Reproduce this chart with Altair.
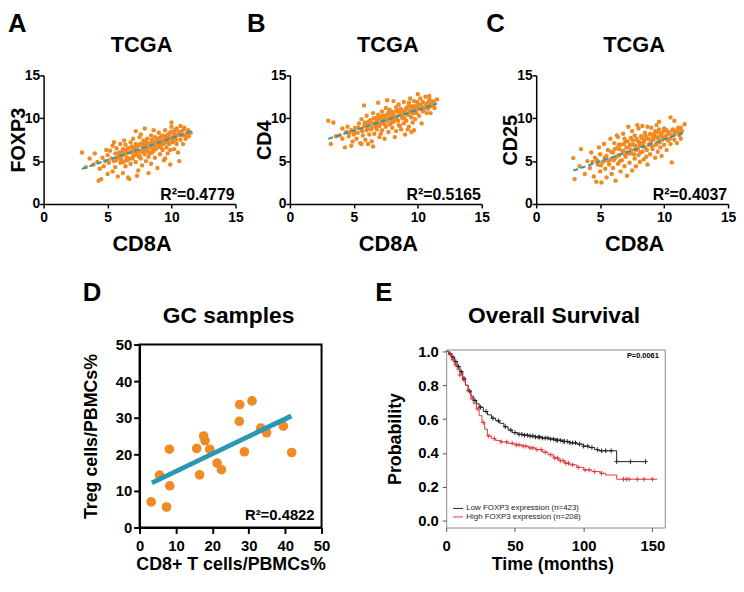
import altair as alt
import pandas as pd

F = "Liberation Sans"
ORANGE = "#F08A24"
TEAL = "#2B97B3"
RED = "#E03C40"
DARK = "#222222"

# ---------------- Panel A: FOXP3 vs CD8A ----------------
A_x = [3.0,3.3,3.6,3.9,4.0,4.2,4.3,4.5,4.4,4.6,4.8,4.9,4.7,5.0,5.0,
       5.1,5.2,5.3,5.4,5.4,5.5,5.6,5.6,5.7,5.8,5.8,5.9,6.0,6.0,5.5,
       6.1,6.2,6.2,6.3,6.4,6.4,6.5,6.6,6.6,6.7,6.8,6.8,6.9,7.0,7.0,6.3,6.7,
       7.1,7.2,7.2,7.3,7.4,7.4,7.5,7.5,7.6,7.7,7.7,7.8,7.8,7.9,8.0,8.0,7.6,7.3,
       8.1,8.1,8.2,8.3,8.3,8.4,8.4,8.5,8.5,8.6,8.7,8.7,8.8,8.9,8.9,9.0,9.0,8.6,8.2,
       9.1,9.1,9.2,9.3,9.3,9.4,9.4,9.5,9.5,9.6,9.7,9.7,9.8,9.8,9.9,10.0,10.0,10.0,9.9,
       10.1,10.2,10.2,10.3,10.4,10.4,10.5,10.6,10.7,10.7,10.8,10.9,11.0,11.0,11.1,11.2,11.3,11.5,10.6,9.5,
       7.9,7.2,6.9,7.5,8.0,8.6,9.2,6.5,7.1,8.3,9.0,10.4]
A_y = [6.0,4.3,5.3,4.6,5.9,4.9,2.7,2.9,4.1,5.4,5.0,6.3,4.4,3.5,5.7,
       4.8,6.2,5.3,3.8,6.8,5.0,5.9,4.3,6.5,5.4,3.2,6.0,4.8,7.0,7.2,
       5.6,6.4,3.6,5.0,6.9,4.4,5.9,6.5,3.1,5.3,7.2,4.7,6.1,5.6,7.6,7.4,2.9,
       6.5,4.9,7.0,5.9,6.8,3.9,6.2,7.8,5.3,6.9,4.5,6.4,7.4,5.8,6.9,5.0,8.1,3.3,
       6.2,7.6,5.5,7.0,6.6,8.0,4.7,6.0,7.3,6.8,5.4,7.8,6.4,7.1,4.2,6.7,8.3,8.6,3.6,
       7.4,5.8,6.9,8.0,6.3,7.2,5.1,7.7,8.6,6.6,7.5,5.9,8.2,7.0,6.3,7.7,9.0,9.5,4.6,
       7.2,8.3,6.4,7.8,8.8,7.0,6.0,8.1,7.5,9.1,8.5,7.0,8.0,8.9,7.6,8.3,8.6,8.3,5.0,5.3,
       8.8,8.5,6.7,5.6,7.2,6.2,7.9,5.4,6.0,5.9,7.3,8.0]
A_x2 = [6.05,6.15,6.35,6.45,6.55,6.75,6.85,6.95,7.05,7.15,7.25,7.35,7.45,7.55,7.65,7.75,7.85,7.95,8.05,8.15,
        8.25,8.35,8.45,8.55,8.65,8.75,8.85,8.95,9.05,9.15,9.25,9.35,9.45,9.55,9.65,9.75,9.85,9.95,10.05,10.15,
        10.25,10.35,10.55,10.75,10.95,11.15,11.35,5.85,5.65,6.25]
A_y2 = [5.2,6.1,5.8,6.3,5.1,6.0,6.6,5.3,6.3,5.7,6.7,6.2,5.5,7.0,6.1,6.6,7.1,6.2,6.5,7.1,
        6.0,6.8,7.5,6.4,7.2,6.7,7.6,6.9,7.7,6.6,7.4,7.0,7.9,7.2,8.0,7.1,7.8,8.4,7.4,7.9,
        8.6,7.5,8.4,8.0,8.7,8.1,7.9,5.6,5.1,4.9]
A_fit_x = [3.0, 11.6]
A_fit_y = [4.1, 8.5]

# ---------------- Panel B: CD4 vs CD8A ----------------
B_x = [3.0,3.4,3.2,3.6,3.9,4.1,4.3,4.4,4.6,4.8,4.9,5.0,4.5,5.1,5.2,
       5.3,5.4,5.5,5.6,5.6,5.7,5.8,5.9,6.0,6.0,5.8,6.1,6.2,6.3,6.4,
       6.4,6.5,6.6,6.6,6.7,6.8,6.8,6.9,7.0,7.0,6.5,6.9,7.1,7.2,7.2,7.3,7.4,
       7.4,7.5,7.5,7.6,7.7,7.7,7.8,7.8,7.9,8.0,8.0,8.1,8.1,8.2,8.3,8.3,8.4,
       8.4,8.5,8.5,8.6,8.7,8.7,8.8,8.9,8.9,9.0,9.0,9.1,9.1,9.2,9.3,9.3,9.4,9.4,9.5,
       9.5,9.6,9.7,9.7,9.8,9.8,9.9,10.0,10.0,10.1,10.2,10.2,10.3,10.4,10.4,10.5,10.6,10.7,
       10.7,10.8,10.9,11.0,11.0,11.1,11.2,11.3,11.5,8.2,9.7,6.1,7.6,10.9,4.1,8.6,9.9,7.1,6.7,8.0,9.2,
       4.8,5.6,9.5]
B_y = [9.7,9.5,7.0,7.9,8.0,7.6,6.6,8.4,7.9,8.6,7.3,8.1,9.0,8.9,7.6,
       8.3,9.4,7.1,8.7,9.9,8.0,9.1,7.5,8.6,10.3,11.5,9.3,8.1,9.8,7.3,
       8.9,10.6,9.4,8.2,10.0,8.7,9.6,11.8,9.1,7.8,6.7,10.4,9.9,8.6,10.8,9.4,7.6,
       10.2,9.0,11.2,9.7,8.4,10.5,9.3,11.0,10.0,8.9,10.7,9.6,12.0,10.2,8.5,11.3,9.8,
       10.9,9.2,11.6,10.4,8.7,11.0,10.0,9.4,11.9,10.6,8.1,11.2,9.7,10.4,11.8,9.0,10.9,12.3,10.1,
       11.4,9.5,10.8,12.0,11.2,9.9,10.6,11.6,12.8,10.3,11.1,12.3,9.4,10.8,11.9,11.3,12.5,10.6,
       11.7,11.1,12.2,11.4,10.6,12.0,11.5,11.2,12.2,7.8,8.6,7.0,12.1,12.6,8.8,9.1,11.0,8.2,9.0,9.7,8.7,
       6.8,7.0,8.4]
B_x2 = [5.05,5.35,5.65,5.85,6.05,6.15,6.35,6.45,6.55,6.75,6.85,6.95,7.05,7.15,7.25,7.35,7.45,7.55,7.65,7.75,
        7.85,7.95,8.05,8.15,8.25,8.35,8.45,8.55,8.65,8.75,8.85,8.95,9.05,9.15,9.25,9.35,9.45,9.55,9.65,9.75,
        9.85,9.95,10.05,10.25,10.45,10.65,10.85,11.05,11.25,4.65]
B_y2 = [8.4,8.9,8.5,9.5,8.9,9.6,8.7,9.4,10.0,9.1,9.9,9.3,10.1,9.5,10.3,9.8,9.2,10.4,9.9,10.8,
        10.1,9.5,10.4,9.9,10.8,10.2,9.7,10.6,11.1,10.3,10.7,10.0,11.0,10.5,11.4,10.7,10.2,11.1,10.6,11.4,
        10.8,11.9,11.2,11.6,11.0,11.5,11.9,11.6,11.9,8.3]
B_fit_x = [3.0, 11.5]
B_fit_y = [7.6, 11.7]

# ---------------- Panel C: CD25 vs CD8A ----------------
C_x = [2.9,3.5,3.0,3.4,3.8,4.0,4.2,4.3,4.5,4.6,4.7,4.8,4.9,5.0,5.0,
       5.1,5.2,5.3,5.4,5.5,5.5,5.6,5.7,5.8,5.8,5.9,6.0,6.0,6.1,6.2,
       6.2,6.3,6.4,6.4,6.5,6.6,6.6,6.7,6.8,6.8,6.9,7.0,7.0,7.1,7.2,7.2,7.3,
       7.4,7.4,7.5,7.5,7.6,7.7,7.7,7.8,7.8,7.9,8.0,8.0,8.1,8.1,8.2,8.3,8.3,
       8.4,8.4,8.5,8.5,8.6,8.7,8.7,8.8,8.9,8.9,9.0,9.0,9.1,9.2,9.3,9.3,9.4,9.4,9.5,
       9.5,9.6,9.7,9.7,9.8,9.8,9.9,10.0,10.0,10.1,10.2,10.2,10.3,10.4,10.5,10.5,10.6,10.6,
       10.7,10.8,10.8,10.9,11.0,11.1,11.2,11.3,11.4,11.6,11.3,6.3,7.9,5.3,6.5,7.1,8.6,9.6,4.4,8.2,9.1,6.9]
C_y = [5.35,6.4,2.9,4.4,3.5,5.0,4.2,6.0,3.2,5.4,2.6,4.6,6.6,3.8,5.8,
       2.5,4.9,7.0,4.1,5.6,3.1,6.3,4.6,7.6,5.2,3.5,6.0,4.2,7.1,5.4,
       2.7,6.5,4.7,7.8,5.7,3.8,6.9,5.1,8.2,6.2,4.4,7.3,5.5,3.3,9.0,6.6,4.8,
       7.7,5.9,8.5,3.9,6.9,5.3,8.0,6.3,4.4,7.4,8.8,5.7,6.8,4.9,7.9,6.1,9.1,
       7.2,5.2,8.3,6.6,7.7,4.6,9.0,6.9,8.1,5.8,7.4,8.9,6.4,7.9,5.4,8.5,7.0,9.2,6.1,
       7.8,8.7,6.6,7.4,8.2,5.6,7.7,8.8,6.9,7.9,8.6,6.3,7.4,8.3,10.1,7.0,4.85,8.0,
       8.7,9.7,7.5,8.3,7.1,8.9,8.0,7.6,8.5,9.3,8.9,8.0,9.2,5.0,6.4,6.0,5.5,9.6,4.9,7.0,7.6,7.6]
C_x2 = [5.05,5.35,5.65,5.85,6.05,6.15,6.35,6.45,6.55,6.75,6.85,6.95,7.05,7.15,7.25,7.35,7.45,7.55,7.65,7.75,
        7.85,7.95,8.05,8.15,8.25,8.35,8.45,8.55,8.65,8.75,8.85,8.95,9.05,9.15,9.25,9.35,9.45,9.55,9.65,9.75,
        9.85,9.95,10.05,10.25,10.45,10.65,10.85,11.05,11.25,4.75]
C_y2 = [4.5,5.4,5.0,6.1,5.1,6.4,5.6,6.9,5.0,6.1,7.0,5.7,6.6,7.3,5.9,6.9,6.3,7.4,5.8,6.8,
        7.6,6.4,7.2,6.0,7.7,6.8,7.4,8.0,6.3,7.6,7.0,8.2,6.7,7.5,8.1,6.9,7.7,8.4,7.2,8.0,
        7.5,8.5,7.7,8.1,7.6,8.6,8.2,8.6,8.3,5.1]
C_fit_x = [2.9, 11.6]
C_fit_y = [3.9, 8.35]

# ---------------- Panel D: GC samples ----------------
D_x = [3.2,5.5,7.4,8.2,8.3,15.7,16.5,17.6,18.0,19.3,21.3,22.5,27.5,27.4,28.8,30.9,33.3,34.9,39.5,41.8]
D_y = [7.0,14.3,5.6,21.4,11.4,21.6,14.4,25.0,23.7,21.4,17.6,15.8,33.6,29.0,20.7,34.6,27.2,25.9,27.7,20.5]
D_fit_x = [3.4, 41.7]
D_fit_y = [12.2, 30.5]

# ---------------- Panel E: Kaplan-Meier ----------------
LOW_t = [0,2,4,6,8,10,12,14,16,18,20,22,24,27,30,33,36,39,42,45,48,52,56,60,65,70,75,80,85,90,95,100,104,108,111,124,145.5]
LOW_p = [1.0,0.985,0.965,0.94,0.91,0.88,0.84,0.80,0.765,0.735,0.71,0.69,0.67,0.645,0.625,0.605,0.59,0.575,0.555,0.535,
         0.52,0.51,0.505,0.50,0.494,0.488,0.482,0.475,0.468,0.46,0.452,0.44,0.432,0.42,0.413,0.349,0.349]
HIGH_t = [0,2,4,6,8,10,12,14,16,18,20,22,24,26,28,30,33,36,40,45,50,55,60,65,70,74,78,82,86,90,95,100,106,112,116,124,153.5]
HIGH_p = [1.0,0.98,0.95,0.92,0.89,0.86,0.83,0.80,0.77,0.72,0.69,0.66,0.62,0.58,0.54,0.50,0.485,0.474,0.465,0.457,
          0.448,0.44,0.43,0.42,0.405,0.39,0.37,0.355,0.34,0.33,0.315,0.30,0.29,0.28,0.27,0.245,0.245]
LOW_cens_t = [3,5,7,9,11,13,17,21,25,29,34,38,43,47,50,53,55,57,59,61,63,65,67,68,70,72,74,76,78,80,
              81,83,85,86,88,90,92,94,97,100,103,106,110,113,116,120,124,134,145]
LOW_cens_p = [.985,.965,.94,.91,.88,.84,.765,.71,.67,.645,.605,.59,.555,.535,.52,.51,.51,.505,.505,.50,
              .50,.494,.494,.494,.488,.488,.488,.482,.482,.475,.475,.475,.468,.468,.468,.46,.46,.46,.452,.44,
              .44,.432,.42,.413,.413,.413,.349,.349,.349]
HIGH_cens_t = [3,5,7,10,13,16,19,23,27,31,35,40,44,48,51,53,56,58,61,63,66,69,72,76,79,81,83,85,87,89,
               92,96,101,104,108,113,129,131,133,139,144,150]
HIGH_cens_p = [.98,.95,.92,.86,.83,.77,.72,.66,.58,.50,.485,.465,.465,.457,.448,.448,.44,.44,.43,.43,
               .42,.42,.405,.39,.37,.37,.355,.355,.34,.34,.33,.315,.30,.30,.29,.28,.245,.245,.245,.245,.245,.245]


def text_layer(s, x, y, size, align="left", baseline="alphabetic", weight="bold", color="black"):
    return alt.Chart(pd.DataFrame({"t": [s]})).mark_text(
        align=align, baseline=baseline, font=F, fontSize=size, fontWeight=weight, color=color
    ).encode(x=alt.value(x), y=alt.value(y), text="t:N")


def ax(values, title, **kw):
    base = dict(values=values, tickCount=len(values) + 2, title=title, grid=False, labelFlush=False,
                labelOverlap=False, labelFont=F, labelFontWeight="bold", labelColor="black",
                titleFont=F, titleFontWeight="bold", titleColor="black",
                tickColor="black", domainColor="black")
    base.update(kw)
    return alt.Axis(**base)


def tcga(letter, letter_x, ylab, xs, ys, fx, fy, r2):
    sc = alt.Scale(domain=[0, 15], nice=False, zero=False)
    xa = ax([0, 5, 10, 15], "CD8A", labelFontSize=14, domainWidth=1.5, tickWidth=1.5, tickSize=4,
            labelPadding=3, titleFontSize=22, titleX=99, titleY=29.7, titleBaseline="top",
            titleAlign="center", titleAngle=0)
    ya = ax([0, 5, 10, 15], ylab, labelFontSize=14, domainWidth=1.5, tickWidth=1.5, tickSize=4,
            labelPadding=0, titleFontSize=20, titleX=-15.8, titleY=65, titleBaseline="bottom",
            titleAlign="center", titleAngle=270)
    pts = alt.Chart(pd.DataFrame({"x": xs, "y": ys})).mark_circle(size=20, color=ORANGE, opacity=1).encode(
        x=alt.X("x:Q", scale=sc, axis=xa), y=alt.Y("y:Q", scale=sc, axis=ya))
    fit = alt.Chart(pd.DataFrame({"x": fx, "y": fy})).mark_line(
        color=TEAL, strokeWidth=2, strokeDash=[5, 3]).encode(x="x:Q", y="y:Q")
    return alt.layer(
        pts, fit,
        text_layer(r2, 193, 125.5, 16, align="right"),
        text_layer("TCGA", 99, -23.7, 22, align="center"),
        text_layer(letter, letter_x, -64.7, 26, baseline="top"),
    ).properties(width=194, height=130)


panelA = tcga("A", -36, "FOXP3", A_x + A_x2, A_y + A_y2, A_fit_x, A_fit_y, "R²=0.4779")
panelB = tcga("B", -43.5, "CD4", B_x + B_x2, B_y + B_y2, B_fit_x, B_fit_y, "R²=0.5165")
panelC = tcga("C", -50.5, "CD25", C_x + C_x2, C_y + C_y2, C_fit_x, C_fit_y, "R²=0.4037")

# Panel D
dsc = alt.Scale(domain=[0, 50], nice=False, zero=False)
dticks = [0, 10, 20, 30, 40, 50]
dxa = ax(dticks, "CD8+ T cells/PBMCs%", labelFontSize=15, domainWidth=2, tickWidth=2, tickSize=6,
         labelPadding=5, titleFontSize=18, titleX=92, titleY=28.7, titleBaseline="top",
         titleAlign="center", titleAngle=0)
dya = ax(dticks, "Treg cells/PBMCs%", labelFontSize=15, domainWidth=2, tickWidth=2, tickSize=6,
         labelPadding=2, titleFontSize=18, titleX=-39.3, titleY=92.5, titleBaseline="bottom",
         titleAlign="center", titleAngle=270)
d_pts = alt.Chart(pd.DataFrame({"x": D_x, "y": D_y})).mark_circle(size=95, color=ORANGE, opacity=1).encode(
    x=alt.X("x:Q", scale=dsc, axis=dxa), y=alt.Y("y:Q", scale=dsc, axis=dya))
d_fit = alt.Chart(pd.DataFrame({"x": D_fit_x, "y": D_fit_y})).mark_line(
    color=TEAL, strokeWidth=5).encode(x="x:Q", y="y:Q")
panelD = alt.layer(
    d_pts, d_fit,
    text_layer("R²=0.4822", 177, 177, 15, align="right"),
    text_layer("GC samples", 90, -22, 23, align="center"),
    text_layer("D", -57.5, -65.5, 26, baseline="top"),
).properties(width=184, height=185, view=alt.ViewBackground(stroke="black", strokeWidth=2))

# Panel E
km = pd.concat([
    pd.DataFrame({"t": LOW_t, "p": LOW_p, "g": "low"}),
    pd.DataFrame({"t": HIGH_t, "p": HIGH_p, "g": "high"}),
])
cens = pd.concat([
    pd.DataFrame({"t": LOW_cens_t, "p": LOW_cens_p, "g": "low"}),
    pd.DataFrame({"t": HIGH_cens_t, "p": HIGH_cens_p, "g": "high"}),
])
ex = alt.Scale(domain=[0, 159], nice=False, zero=False)
ey = alt.Scale(domain=[-0.04, 1.0108], nice=False, zero=False)
gcol = alt.Color("g:N", scale=alt.Scale(domain=["low", "high"], range=[DARK, RED]), legend=None)
exa = ax([0, 50, 100, 150], "Time (months)", labelFontSize=15, domain=False, tickWidth=1, tickSize=4,
         tickColor="#555555", labelPadding=7, titleFontSize=18, titleX=107.3, titleY=28.7,
         titleBaseline="top", titleAlign="center", titleAngle=0)
eya = ax([0, 0.2, 0.4, 0.6, 0.8, 1.0], "Probability", format=".1f", labelFontSize=15, domain=False,
         tickWidth=1, tickSize=4, tickColor="#555555", labelPadding=4, titleFontSize=18, titleX=-42.6,
         titleY=90, titleBaseline="bottom", titleAlign="center", titleAngle=270)
e_lines = alt.Chart(km).mark_line(interpolate="step-after", strokeWidth=1).encode(
    x=alt.X("t:Q", scale=ex, axis=exa), y=alt.Y("p:Q", scale=ey, axis=eya), color=gcol)
e_cens = alt.Chart(cens).mark_point(shape="M-1,0L1,0M0,-1L0,1", filled=False, size=22, strokeWidth=1,
                                    opacity=1).encode(x="t:Q", y="p:Q", color=gcol)


def leg_rule(y, color):
    return alt.Chart(pd.DataFrame({"a": [0]})).mark_rule(color=color, strokeWidth=1).encode(
        x=alt.value(7), x2=alt.value(17), y=alt.value(y))


panelE = alt.layer(
    e_lines, e_cens,
    leg_rule(160.7, DARK), leg_rule(169.3, RED),
    text_layer("Low FOXP3 expression (n=423)", 20.3, 160.7, 8, baseline="middle", weight="normal", color=DARK),
    text_layer("High FOXP3 expression (n=208)", 20.3, 169.3, 8, baseline="middle", weight="normal", color=DARK),
    text_layer("P=0.0061", 215, 9, 7.5, align="right"),
    text_layer("Overall Survival", 109, -27, 23, align="center"),
    text_layer("E", -71.6, -70.5, 26, baseline="top"),
).properties(width=221, height=180, view=alt.ViewBackground(stroke="#8a8a8a", strokeWidth=1))


def spacer(w, h=1):
    return alt.Chart(pd.DataFrame({"a": [0]})).mark_rule(strokeOpacity=0).encode(
        x=alt.value(0), y=alt.value(0), y2=alt.value(1)).properties(width=w, height=h)


panelE_col = alt.vconcat(spacer(221, 5), panelE, spacing=0, bounds="flush")

top_row = alt.hconcat(panelA, panelB, panelC, spacing=55, bounds="flush")
bottom_row = alt.hconcat(spacer(96), panelD, spacer(123.7), panelE_col, spacing=1, bounds="flush")

chart = alt.vconcat(top_row, bottom_row, spacing=24.1).properties(
    padding={"left": 0, "top": 0, "right": 0, "bottom": 0}
).configure_view(stroke=None)

chart.save("out.html", embed_options={"renderer": "svg", "actions": False})
